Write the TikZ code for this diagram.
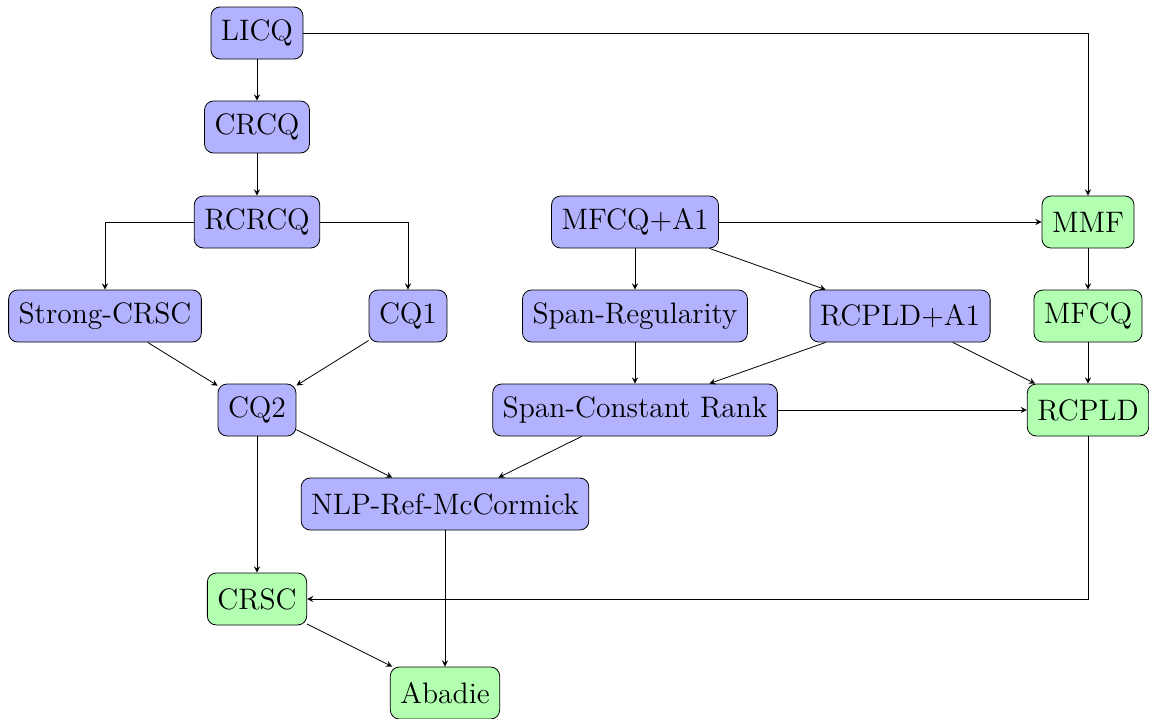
\documentclass[tikz,border=0pt]{standalone}
\usetikzlibrary{arrows}
\begin{document}
\begin{tikzpicture}[x=0.5pt,y=-0.5pt,
  cq/.style={draw,rounded corners=4.5pt,font=\fontsize{14.8}{18}\selectfont,
    inner xsep=5pt,minimum height=26pt},
  strong/.style={cq,fill=blue!30},
  weak/.style={cq,fill=green!30},
  imp/.style={-stealth}]
\useasboundingbox (0,0) rectangle (1149,718);
% left column
\node[strong] (licq)   at (257,33)  {LICQ};
\node[strong] (crcq)   at (257,127) {CRCQ};
\node[strong] (rcrcq)  at (257,222) {RCRCQ};
\node[strong] (scrsc)  at (105,316) {Strong-CRSC};
\node[strong] (cq1)    at (408,316) {CQ1};
\node[strong] (cq2)    at (257,410) {CQ2};
\node[strong] (nlp)    at (445,504) {NLP-Ref-McCormick};
\node[weak]   (crsc)   at (257,599) {CRSC};
\node[weak]   (abadie) at (445,693) {Abadie};
% right part
\node[strong] (mfcqa)   at (635,222)  {MFCQ+A1};
\node[weak]   (mmf)     at (1088,222) {MMF};
\node[strong] (spanreg) at (635,316)  {Span-Regularity};
\node[strong] (rcplda)  at (900,316)  {RCPLD+A1};
\node[weak]   (mfcq)    at (1088,316) {MFCQ};
\node[strong] (scr)     at (635,410)  {Span-Constant Rank};
\node[weak]   (rcpld)   at (1088,410) {RCPLD};
% implications
\draw[imp] (licq) -- (crcq);
\draw[imp] (licq) -| (mmf);
\draw[imp] (crcq) -- (rcrcq);
\draw[imp] (rcrcq) -| (scrsc);
\draw[imp] (rcrcq) -| (cq1);
\draw[imp] (scrsc) -- (cq2);
\draw[imp] (cq1) -- (cq2);
\draw[imp] (cq2) -- (nlp);
\draw[imp] (cq2) -- (crsc);
\draw[imp] (mfcqa) -- (mmf);
\draw[imp] (mfcqa) -- (spanreg);
\draw[imp] (mfcqa) -- (rcplda);
\draw[imp] (mmf) -- (mfcq);
\draw[imp] (spanreg) -- (scr);
\draw[imp] (rcplda) -- (scr);
\draw[imp] (rcplda) -- (rcpld);
\draw[imp] (mfcq) -- (rcpld);
\draw[imp] (scr) -- (rcpld);
\draw[imp] (scr) -- (nlp);
\draw[imp] (rcpld) |- (crsc);
\draw[imp] (nlp) -- (abadie);
\draw[imp] (crsc) -- (abadie);
\end{tikzpicture}
\end{document}
